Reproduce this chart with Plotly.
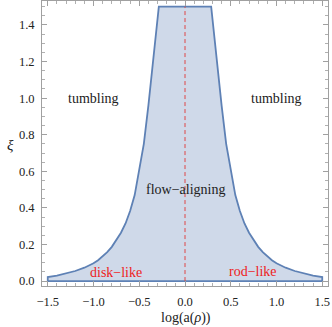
import plotly.graph_objects as go

# Boundary of the flow-aligning region (left branch)
x_left = [-1.5, -1.4, -1.3, -1.2, -1.1, -1.0, -0.95, -0.9, -0.85, -0.8, -0.75,
          -0.7, -0.65, -0.6, -0.55, -0.5, -0.45, -0.4, -0.35, -0.3, -0.286]
xi_left = [0.022, 0.030, 0.041, 0.055, 0.073, 0.097, 0.114, 0.134, 0.158, 0.187, 0.222,
           0.264, 0.315, 0.383, 0.47, 0.60, 0.75, 0.96, 1.19, 1.43, 1.5]
# right branch (from top down)
x_right = [0.286, 0.3, 0.35, 0.4, 0.45, 0.5, 0.55, 0.6, 0.65, 0.7, 0.75,
           0.8, 0.85, 0.9, 0.95, 1.0, 1.1, 1.2, 1.3, 1.4, 1.5]
xi_right = [1.5, 1.43, 1.19, 0.96, 0.75, 0.60, 0.47, 0.383, 0.315, 0.264, 0.222,
            0.187, 0.158, 0.134, 0.114, 0.097, 0.073, 0.055, 0.041, 0.030, 0.022]

x_ticks = [-1.5, -1.0, -0.5, 0.0, 0.5, 1.0, 1.5]
y_ticks = [0.0, 0.2, 0.4, 0.6, 0.8, 1.0, 1.2, 1.4]

region_labels = ["tumbling", "tumbling", "flow\u2212aligning", "disk\u2212like", "rod\u2212like"]
label_x = [-1.0, 1.0, 0.0, -0.75, 0.74]
label_y = [1.0, 1.0, 0.5, 0.047, 0.05]
label_colors = ["#222222", "#222222", "#222222", "#ee1c1c", "#ee1c1c"]

poly_x = [x_left[0]] + x_left + x_right + [x_right[-1], x_left[0]]
poly_y = [0.0] + xi_left + xi_right + [0.0, 0.0]

serif = "Liberation Serif, Times New Roman, serif"
fig = go.Figure()
fig.add_trace(go.Scatter(
    x=poly_x, y=poly_y, mode="lines", fill="toself",
    fillcolor="rgb(207,217,233)",
    line=dict(color="rgb(94,129,181)", width=1.8),
    hoverinfo="skip", showlegend=False))
fig.add_trace(go.Scatter(
    x=[0, 0], y=[0, 1.5], mode="lines",
    line=dict(color="rgb(222,70,70)", width=1, dash="4px,3px"),
    hoverinfo="skip", showlegend=False))

for t, lx, ly, c in zip(region_labels, label_x, label_y, label_colors):
    fig.add_annotation(x=lx, y=ly, text=t, showarrow=False,
                       font=dict(family=serif, size=14, color=c),
                       xanchor="center", yanchor="middle")

fig.add_annotation(xref="paper", yref="paper", x=(186 - 42) / 286, y=(286 - 318) / 285,
                   text="log(a(<i>\u03c1</i>))", showarrow=False,
                   font=dict(family=serif, size=14, color="#222222"),
                   xanchor="center", yanchor="middle")
fig.add_annotation(xref="paper", yref="paper", x=(10 - 42) / 286, y=(286 - 145) / 285,
                   text="<i>\u03be</i>", showarrow=False,
                   font=dict(family=serif, size=15, color="#222222"),
                   xanchor="center", yanchor="middle")

axis_common = dict(showgrid=False, zeroline=False, showline=True, mirror="ticks",
                   linecolor="#a0a0a0", linewidth=1, ticks="inside", tickcolor="#a0a0a0",
                   ticklen=5, tickwidth=1,
                   tickfont=dict(family=serif, size=12.5, color="#222222"))

fig.update_xaxes(range=[-1.563, 1.563], tickvals=x_ticks,
                 ticktext=[f"{v:.1f}".replace("-", "\u2212") for v in x_ticks],
                 minor=dict(dtick=0.1, tick0=0, ticks="inside", ticklen=3, tickcolor="#b0b0b0"),
                 ticklabelstandoff=4, **axis_common)
fig.update_yaxes(range=[-0.027, 1.531], tickvals=y_ticks,
                 ticktext=[f"{v:.1f}" for v in y_ticks],
                 minor=dict(dtick=0.05, tick0=0, ticks="inside", ticklen=3, tickcolor="#b0b0b0"),
                 ticklabelstandoff=4, **axis_common)

fig.update_layout(width=332, height=327, margin=dict(l=42, r=4, t=1, b=41),
                  plot_bgcolor="white", paper_bgcolor="white")
fig.write_html("out.html", config={"displayModeBar": False},
               post_script="document.body.style.margin='0';document.body.style.overflow='hidden';")
